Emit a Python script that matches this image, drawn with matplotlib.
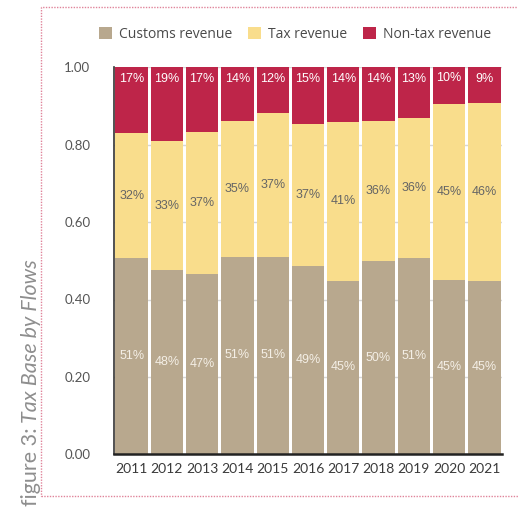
import matplotlib
matplotlib.use("Agg")
import matplotlib.pyplot as plt
from matplotlib.patches import Rectangle, Patch
import numpy as np

years = ["2011", "2012", "2013", "2014", "2015", "2016", "2017", "2018", "2019", "2020", "2021"]
customs = [0.507, 0.476, 0.466, 0.511, 0.511, 0.487, 0.449, 0.500, 0.507, 0.451, 0.449]
tax = [0.322, 0.333, 0.368, 0.350, 0.372, 0.366, 0.409, 0.361, 0.361, 0.454, 0.459]
nontax = [0.171, 0.191, 0.166, 0.139, 0.117, 0.147, 0.142, 0.139, 0.132, 0.096, 0.092]
series_names = ["Customs revenue", "Tax revenue", "Non-tax revenue"]
colors = ["#b8a88e", "#f9dd8c", "#be2549"]
yticks = [0.0, 0.2, 0.4, 0.6, 0.8, 1.0]

W, H = 518, 513
fig = plt.figure(figsize=(W / 100, H / 100), dpi=100)
ax = fig.add_axes([114 / W, 1 - 454.3 / H, (502 - 114) / W, (454.3 - 67.3) / H])

x = np.arange(len(years))
c = np.array(customs)
t = np.array(tax)
n = np.array(nontax)
bw = 0.92
ax.bar(x, c, bw, color=colors[0], zorder=2)
ax.bar(x, t, bw, bottom=c, color=colors[1], zorder=2)
ax.bar(x, n, bw, bottom=c + t, color=colors[2], zorder=2)

lab_font = dict(family=["Liberation Sans", "DejaVu Sans"], fontsize=9)
for i in range(len(years)):
    ax.text(x[i], c[i] / 2, f"{round(c[i]*100):d}%", ha="center", va="center",
            color="#f4efe6", zorder=3, **lab_font)
    ax.text(x[i], c[i] + t[i] / 2, f"{round(t[i]*100):d}%", ha="center", va="center",
            color="#656565", zorder=3, **lab_font)
    ax.text(x[i], c[i] + t[i] + n[i] - 0.029, f"{round(n[i]*100):d}%", ha="center", va="center",
            color="white", zorder=3, **lab_font)

ax.set_xlim(-0.5, len(years) - 0.5)
ax.set_ylim(0, 1.0)
ax.set_yticks(yticks)
ax.set_yticklabels([f"{v:.2f}" for v in yticks], color="#555555", fontsize=9.5,
                   family=["Lato", "DejaVu Sans"])
ax.set_xticks(x)
ax.set_xticklabels(years, color="#3a3a3a", fontsize=10, family=["Lato", "DejaVu Sans"])
ax.tick_params(axis="both", length=0)
ax.tick_params(axis="y", pad=17)
ax.tick_params(axis="x", pad=6)
ax.yaxis.grid(True, color="#d6d6d6", lw=1, zorder=0)
ax.set_axisbelow(True)
for s in ["top", "right"]:
    ax.spines[s].set_visible(False)
ax.spines["left"].set_color("#333333")
ax.spines["left"].set_linewidth(1.2)
ax.spines["bottom"].set_color("#222222")
ax.spines["bottom"].set_linewidth(1.8)

handles = [Patch(facecolor=col, edgecolor="none") for col in colors]
fig.legend(handles, series_names, loc="center", bbox_to_anchor=(295 / W, 1 - 34 / H),
           ncol=3, frameon=False, handlelength=0.95, handleheight=0.95, handletextpad=0.5,
           columnspacing=1.15, prop=dict(family=["Open Sans", "DejaVu Sans"], size=10),
           labelcolor="#4a4a4a")

# dotted border
fig.patches.append(Rectangle((41 / W, 1 - 496 / H), 1.0, (496 - 7) / H, transform=fig.transFigure,
                             fill=False, edgecolor="#e0849a", lw=1.0, linestyle=(0, (1, 1)),
                             clip_on=False))

# figure caption on the left
fnt = ["Lato", "DejaVu Sans"]
t2 = fig.text(31 / W, 1 - 259 / H, "Tax Base by Flows", rotation=90, ha="right", va="center",
              rotation_mode="anchor", style="italic", color="#8e8e8e", fontsize=15.5,
              family=fnt)
fig.canvas.draw()
bb = t2.get_window_extent()
t1 = fig.text(31 / W, (bb.y0 - 5) / H, "figure 3:", rotation=90, ha="right", va="center",
              rotation_mode="anchor", color="#8e8e8e", fontsize=15.5, family=fnt)

fig.savefig("out.png", dpi=100)
